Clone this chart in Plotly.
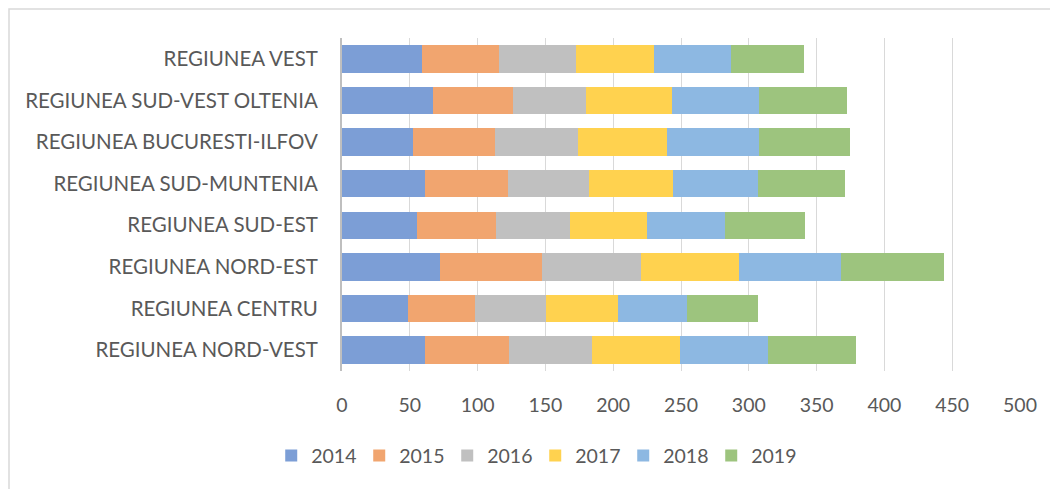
import plotly.graph_objects as go

regions = [
    "REGIUNEA NORD-VEST",
    "REGIUNEA CENTRU",
    "REGIUNEA NORD-EST",
    "REGIUNEA SUD-EST",
    "REGIUNEA SUD-MUNTENIA",
    "REGIUNEA BUCURESTI-ILFOV",
    "REGIUNEA SUD-VEST OLTENIA",
    "REGIUNEA VEST",
]
years = ["2014", "2015", "2016", "2017", "2018", "2019"]

v2014 = [61.5, 48.4, 72.2, 55.6, 61.5, 52.4, 67.4, 59.1]
v2015 = [61.8, 49.8, 75.5, 57.9, 60.6, 60.1, 58.4, 57.0]
v2016 = [61.3, 52.1, 72.9, 54.9, 59.8, 61.3, 54.4, 56.4]
v2017 = [64.6, 53.5, 72.0, 56.6, 62.1, 66.2, 62.8, 57.9]
v2018 = [64.9, 50.6, 75.3, 57.8, 62.6, 67.7, 64.2, 56.3]
v2019 = [64.6, 52.3, 76.3, 58.6, 64.5, 66.9, 64.9, 54.2]
series = [v2014, v2015, v2016, v2017, v2018, v2019]

colors = ["#7C9ED6", "#F1A56F", "#C0C0C0", "#FFD24F", "#8DB8E2", "#9DC47E"]

x_ticks = [0, 50, 100, 150, 200, 250, 300, 350, 400, 450, 500]

FONT = "Lato"
TXT = "#595959"

fig = go.Figure()
for name, vals, col in zip(years, series, colors):
    fig.add_trace(go.Bar(
        y=regions, x=vals, name=name, orientation="h",
        marker=dict(color=col, line=dict(width=0)),
    ))

fig.update_layout(
    barmode="stack",
    bargap=0.34,
    width=1058, height=489,
    margin=dict(l=334, r=46, t=30, b=126, autoexpand=False),
    paper_bgcolor="white", plot_bgcolor="white",
    font=dict(family=FONT, size=20, color=TXT),
    legend=dict(
        orientation="h", x=0.285, xanchor="center", y=-0.255, yanchor="middle",
        font=dict(family=FONT, size=19.5, color=TXT),
        traceorder="normal", itemwidth=30,
        entrywidth=43, entrywidthmode="pixels",
    ),
    xaxis=dict(
        range=[0, 500], tickvals=x_ticks, showgrid=True,
        gridcolor="#D9D9D9", gridwidth=1.3, zeroline=False,
        showline=False, ticks="", ticklabelstandoff=20,
        tickfont=dict(family=FONT, size=19.5, color=TXT),
    ),
    yaxis=dict(
        showline=True, linecolor="#BFBFBF", linewidth=2,
        ticks="", ticklabelstandoff=18,
        tickfont=dict(family=FONT, size=20.5, color=TXT),
    ),
    shapes=[dict(
        type="rect", xref="paper", yref="paper",
        x0=(1 - 334) / 678, x1=1.2,
        y0=-0.5, y1=1 + 29 / 333,
        line=dict(color="#D9D9D9", width=1.5), fillcolor="rgba(0,0,0,0)",
        layer="below",
    )],
)

fig.write_html("out.html")
